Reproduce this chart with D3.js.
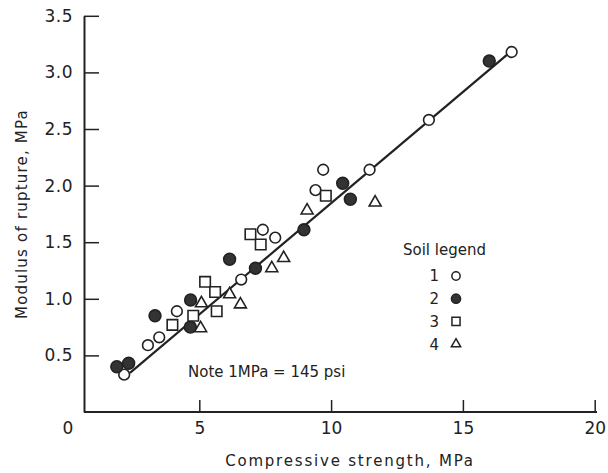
<!DOCTYPE html>
<html>
<head>
<meta charset="utf-8">
<script src="https://cdn.jsdelivr.net/npm/d3@7/dist/d3.min.js"></script>
<style>
  body { margin: 0; background: #fff; }
  svg text { font-family: "DejaVu Sans", sans-serif; fill: #222; }
</style>
</head>
<body>
<svg id="chart" width="608" height="473"></svg>
<script>

// soil 1 - open circles
var soil1X = [2.15, 3.05, 3.48, 4.15, 6.59, 7.41, 7.88, 9.41, 9.70, 11.46, 13.71, 16.85];
var soil1Y = [0.33, 0.59, 0.66, 0.89, 1.17, 1.61, 1.54, 1.96, 2.14, 2.14, 2.58, 3.18];

// soil 2 - filled circles
var soil2X = [1.87, 2.32, 3.32, 4.67, 4.66, 6.15, 7.13, 8.97, 10.44, 10.73, 16.0];
var soil2Y = [0.40, 0.43, 0.85, 0.99, 0.75, 1.35, 1.27, 1.61, 2.02, 1.88, 3.10];

// soil 3 - squares
var soil3X = [3.98, 4.77, 5.22, 5.60, 5.66, 6.94, 7.33, 9.80];
var soil3Y = [0.77, 0.85, 1.15, 1.06, 0.89, 1.57, 1.48, 1.91];

// soil 4 - triangles
var soil4X = [5.05, 5.08, 6.15, 6.56, 7.75, 8.20, 9.09, 11.67];
var soil4Y = [0.74, 0.96, 1.04, 0.95, 1.27, 1.36, 1.78, 1.85];

// fitted line ends
var fitX = [2.37, 16.9];
var fitY = [0.345, 3.2];

var xTicks = [0, 5, 10, 15, 20];
var yTicks = [0.5, 1.0, 1.5, 2.0, 2.5, 3.0, 3.5];
var legendLabels = ["1", "2", "3", "4"];

var ink = "#222";

var svg = d3.select("#chart");

var x = d3.scaleLinear().domain([0, 20]).range([67.5, 594.7]);
var y = d3.scaleLinear().domain([0, 3.5]).range([412, 15.8]);

// axes
var xAxis = d3.axisBottom(x)
  .tickValues(xTicks)
  .tickFormat(d3.format("d"))
  .tickSizeInner(-12)
  .tickSizeOuter(0)
  .tickPadding(10);

var gx = svg.append("g")
  .attr("transform", "translate(0," + y(0) + ")")
  .call(xAxis);
gx.select(".domain").remove();
gx.selectAll(".tick").filter(function(d) { return d === 0; }).select("line").remove();
gx.selectAll("line").attr("stroke", ink).attr("stroke-width", 1.5);
gx.selectAll("text").style("font-size", "17px").attr("fill", ink);

svg.append("line")
  .attr("x1", 84).attr("x2", 597)
  .attr("y1", y(0)).attr("y2", y(0))
  .attr("stroke", ink).attr("stroke-width", 2);

var yAxis = d3.axisLeft(y)
  .tickValues(yTicks)
  .tickFormat(d3.format(".1f"))
  .tickSizeInner(-15)
  .tickSizeOuter(0)
  .tickPadding(11);

var gy = svg.append("g")
  .attr("transform", "translate(84,0)")
  .call(yAxis);
gy.select(".domain").attr("stroke", ink).attr("stroke-width", 2);
gy.selectAll("line").attr("stroke", ink).attr("stroke-width", 1.5);
gy.selectAll("text").style("font-size", "17px").style("letter-spacing", "0.5px").attr("fill", ink);

// axis titles
svg.append("text")
  .attr("x", 350)
  .attr("y", 466)
  .attr("text-anchor", "middle")
  .style("font-size", "15px")
  .style("letter-spacing", "1.8px")
  .text("Compressive strength, MPa");

svg.append("text")
  .attr("transform", "translate(27,214) rotate(-90)")
  .attr("text-anchor", "middle")
  .style("font-size", "15px")
  .style("letter-spacing", "1.2px")
  .text("Modulus of rupture, MPa");

// fitted line
svg.append("line")
  .attr("x1", x(fitX[0])).attr("y1", y(fitY[0]))
  .attr("x2", x(fitX[1])).attr("y2", y(fitY[1]))
  .attr("stroke", ink)
  .attr("stroke-width", 2.2);

// markers
var series = [
  {xs: soil1X, ys: soil1Y, type: d3.symbolCircle, size: 90, fill: "#fff"},
  {xs: soil2X, ys: soil2Y, type: d3.symbolCircle, size: 110, fill: "#333"},
  {xs: soil3X, ys: soil3Y, type: d3.symbolSquare, size: 110, fill: "#fff"},
  {xs: soil4X, ys: soil4Y, type: d3.symbolTriangle, size: 62, fill: "#fff"}
];

series.forEach(function(s) {
  var pts = s.xs.map(function(v, i) { return [v, s.ys[i]]; });
  svg.append("g").selectAll("path")
    .data(pts)
    .enter().append("path")
    .attr("d", d3.symbol().type(s.type).size(s.size))
    .attr("transform", function(d) { return "translate(" + x(d[0]) + "," + y(d[1]) + ")"; })
    .attr("fill", s.fill)
    .attr("stroke", ink)
    .attr("stroke-width", 1.6);
});

// note
svg.append("text")
  .attr("x", 188)
  .attr("y", 377)
  .style("font-size", "15px")
  .text("Note 1MPa = 145 psi");

// legend
svg.append("text")
  .attr("x", 403)
  .attr("y", 255)
  .style("font-size", "15px")
  .text("Soil legend");

var legendRows = svg.append("g").selectAll("g")
  .data(legendLabels)
  .enter().append("g")
  .attr("transform", function(d, i) { return "translate(0," + (276 + i * 22.7) + ")"; });

legendRows.append("text")
  .attr("x", 439)
  .attr("dy", "0.36em")
  .attr("text-anchor", "end")
  .style("font-size", "15px")
  .text(function(d) { return d; });

legendRows.append("path")
  .attr("transform", "translate(456,0)")
  .attr("d", function(d, i) {
    return d3.symbol().type(series[i].type).size(series[i].size * 0.6)();
  })
  .attr("fill", function(d, i) { return series[i].fill; })
  .attr("stroke", ink)
  .attr("stroke-width", 1.5);

</script>
</body>
</html>
